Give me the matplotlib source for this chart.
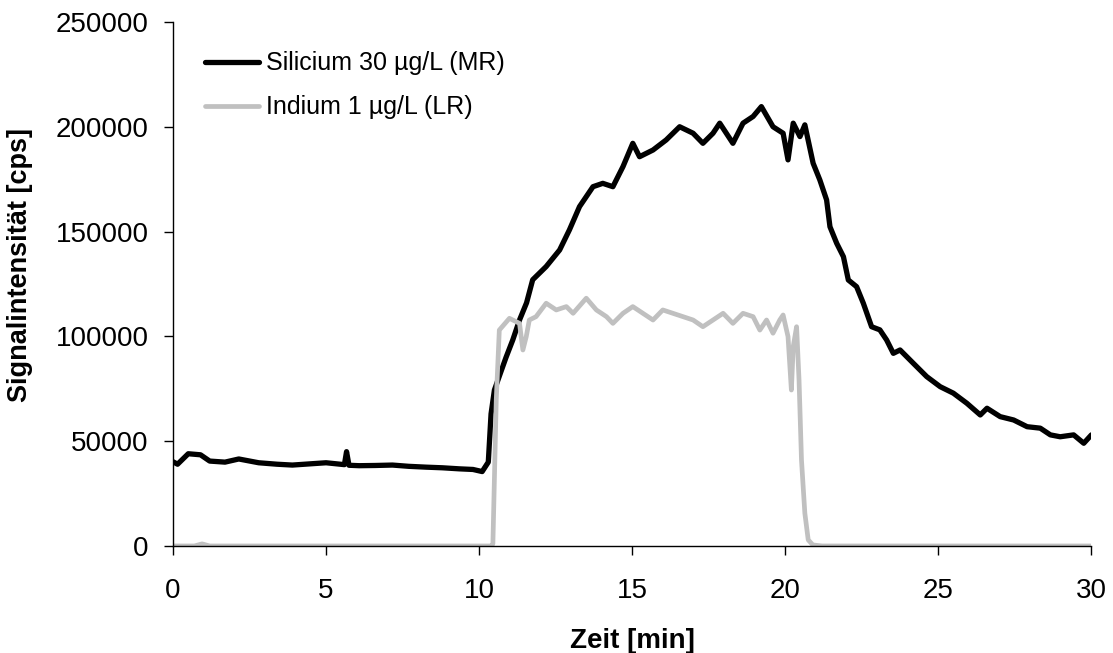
import matplotlib.pyplot as plt

plt.rcParams['font.family'] = ['Liberation Sans', 'DejaVu Sans']

"""Silicium 30 ug/L (MR) - read from the chart"""
si_time = [0.0, 0.15, 0.5, 0.9, 1.2, 1.7, 2.15, 2.8, 3.4, 3.9, 4.5, 5.0, 5.6, 5.67, 5.75, 6.08,
           6.6, 7.17, 7.7, 8.27, 8.8, 9.35, 9.8, 10.1, 10.3, 10.39, 10.5, 10.77, 10.88, 11.1,
           11.32, 11.55, 11.75, 12.19, 12.63, 12.95, 13.28, 13.72, 14.04, 14.37, 14.7, 15.02,
           15.24, 15.68, 16.11, 16.55, 16.99, 17.31, 17.64, 17.86, 18.29, 18.62, 18.95, 19.22,
           19.6, 19.93, 20.09, 20.26, 20.48, 20.64, 20.91, 21.13, 21.35, 21.46, 21.68, 21.9,
           22.06, 22.33, 22.55, 22.82, 23.09, 23.31, 23.53, 23.75, 24.18, 24.62, 25.06, 25.49,
           25.93, 26.37, 26.59, 27.02, 27.46, 27.9, 28.33, 28.66, 28.98, 29.42, 29.75, 30.0]
si_signal = [40200, 39000, 44000, 43500, 40500, 40000, 41500, 39700, 39000, 38600, 39200, 39700,
             38800, 45000, 38500, 38300, 38400, 38600, 38000, 37600, 37300, 36800, 36500, 35500,
             40000, 63000, 74400, 85500, 90000, 98300, 107800, 116000, 127000, 133300, 141200,
             150800, 161900, 171400, 173000, 171400, 181000, 192100, 185700, 188900, 193700,
             200000, 196900, 192100, 196900, 201700, 192100, 201700, 204900, 209600, 200000,
             196900, 184200, 201700, 195300, 200900, 182600, 174600, 165100, 152300, 144400,
             138000, 126900, 123700, 115800, 104600, 103100, 98300, 91900, 93500, 87200, 80800,
             76000, 72900, 68100, 62500, 65700, 61700, 60100, 56900, 56200, 53000, 52100, 53000,
             49000, 53000]

"""Indium 1 ug/L (LR)"""
in_time = [0.0, 0.7, 0.95, 1.2, 10.4, 10.45, 10.56, 10.66, 10.99, 11.32, 11.43, 11.54, 11.64,
           11.86, 12.19, 12.52, 12.85, 13.07, 13.5, 13.83, 14.16, 14.37, 14.7, 15.02, 15.35,
           15.68, 16.0, 16.33, 16.66, 16.99, 17.31, 17.64, 17.97, 18.29, 18.62, 18.95, 19.17,
           19.39, 19.6, 19.82, 19.93, 20.09, 20.2, 20.26, 20.37, 20.45, 20.53, 20.64, 20.75,
           20.9, 21.2, 30.0]
in_signal = [0, 0, 1000, 0, 0, 1000, 69700, 103000, 108600, 106200, 93500, 99900, 107800, 109400,
             115800, 112600, 114200, 111000, 118200, 112600, 109400, 106200, 111000, 114200,
             111000, 107800, 112600, 111000, 109400, 107800, 104600, 107800, 111000, 106200,
             111000, 109400, 103000, 107800, 101500, 107800, 110200, 99900, 74400, 95100, 104600,
             79200, 41000, 15600, 2900, 500, 0, 0]

fig = plt.figure(figsize=(11.13, 6.53), dpi=100)
ax = fig.add_axes([0.1554, 0.1639, 0.8252, 0.8025])

ax.plot(si_time, si_signal, color='black', lw=3.8, label='Silicium 30 µg/L (MR)',
        solid_joinstyle='round', solid_capstyle='round')
ax.plot(in_time, in_signal, color='#c0c0c0', lw=3.4, label='Indium 1 µg/L (LR)',
        solid_joinstyle='round', solid_capstyle='round')

ax.set_xlim(0, 30)
ax.set_ylim(0, 250000)
ax.set_xticks([0, 5, 10, 15, 20, 25, 30])
ax.set_yticks([0, 50000, 100000, 150000, 200000, 250000])
ax.tick_params(labelsize=20, direction='out', length=6.5, width=1)
ax.tick_params(axis='y', pad=11)
ax.tick_params(axis='x', pad=16.5)
for s in ['top', 'right']:
    ax.spines[s].set_visible(False)
for s in ['left', 'bottom']:
    ax.spines[s].set_linewidth(1)

ax.set_xlabel('Zeit [min]', fontsize=20, fontweight='bold', labelpad=17)
ax.set_ylabel('Signalintensität [cps]', fontsize=19.5, fontweight='bold')
ax.yaxis.set_label_coords(-0.152, 0.536)

ax.legend(loc='upper left', bbox_to_anchor=(0.035, 0.944), frameon=False, fontsize=18,
          handlelength=2.15, handletextpad=0.27, labelspacing=0.8, borderaxespad=0,
          borderpad=0)

fig.savefig('out.png', dpi=100)
